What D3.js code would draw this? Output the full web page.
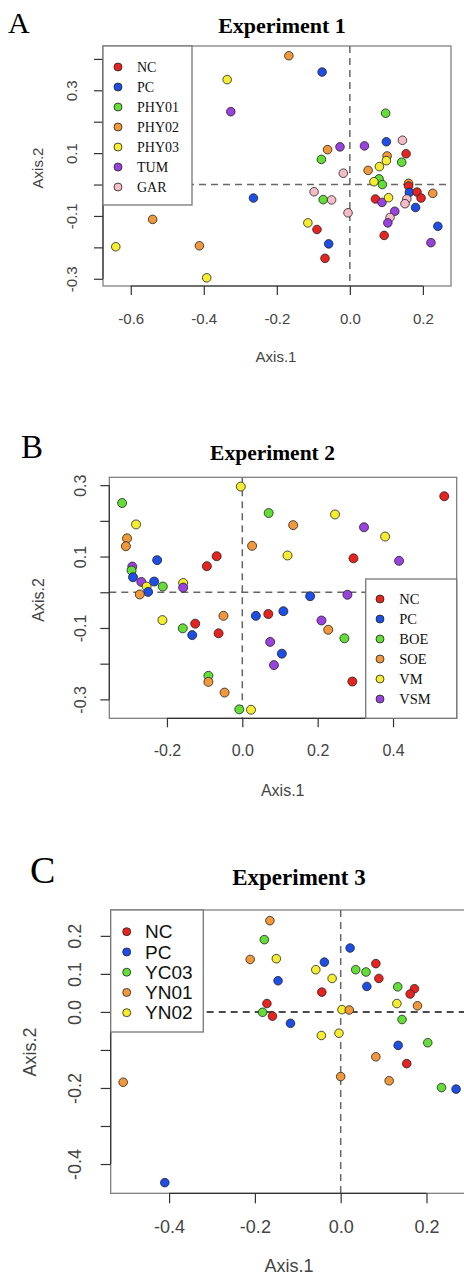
<!DOCTYPE html>
<html>
<head>
<meta charset="utf-8">
<script src="https://cdn.jsdelivr.net/npm/d3@7"></script>
<style>
  body { margin: 0; background: #fff; }
  svg { display: block; }
</style>
</head>
<body>
<svg id="chart" width="464" height="1276"></svg>
<script>
// colours used by all three panels
const RED = "#e6231f", BLUE = "#1d4fe6", GREEN = "#62de36", ORANGE = "#f1983a",
      YELLOW = "#f6ec30", PURPLE = "#9a42de", PINK = "#f5bcc8";

// ---- Experiment 1 ----
const groupsA = ["NC", "PC", "PHY01", "PHY02", "PHY03", "TUM", "GAR"];
const colorsA = [RED, BLUE, GREEN, ORANGE, YELLOW, PURPLE, PINK];
const pointsA = [
  ["PHY02", -0.167, 0.410], ["PC", -0.076, 0.358], ["PHY03", -0.336, 0.334], ["TUM", -0.326, 0.232],
  ["PHY01", 0.098, 0.227], ["PC", 0.100, 0.136], ["GAR", 0.144, 0.141], ["PHY02", -0.061, 0.111],
  ["TUM", -0.027, 0.120], ["TUM", 0.040, 0.123], ["NC", 0.154, 0.098], ["PHY02", 0.102, 0.091],
  ["PHY03", 0.100, 0.076], ["PHY01", -0.078, 0.080], ["PHY01", 0.142, 0.071], ["PHY03", 0.081, 0.057],
  ["GAR", -0.018, 0.036], ["PHY02", 0.050, 0.045], ["PHY01", 0.080, 0.018], ["PHY03", 0.066, 0.009],
  ["PHY01", 0.089, 0.000], ["PHY02", 0.161, 0.004], ["NC", 0.161, -0.005], ["GAR", -0.098, -0.023],
  ["PC", -0.264, -0.043], ["PHY01", -0.073, -0.048], ["GAR", -0.050, -0.049], ["NC", 0.070, -0.046],
  ["TUM", 0.088, -0.057], ["PHY03", 0.106, -0.042], ["PC", 0.163, -0.025], ["NC", 0.184, -0.024],
  ["NC", 0.195, -0.043], ["PHY02", 0.227, -0.028], ["GAR", 0.156, -0.046], ["GAR", 0.151, -0.061],
  ["PC", 0.180, -0.073], ["TUM", 0.123, -0.085], ["GAR", -0.005, -0.090], ["GAR", 0.110, -0.105],
  ["PHY02", -0.540, -0.111], ["TUM", 0.104, -0.122], ["PC", 0.241, -0.133], ["PHY03", -0.115, -0.122],
  ["NC", -0.090, -0.143], ["NC", 0.094, -0.162], ["PHY03", -0.641, -0.198], ["PHY02", -0.412, -0.195],
  ["PC", -0.058, -0.189], ["TUM", 0.222, -0.185], ["NC", -0.068, -0.235], ["PHY03", -0.392, -0.297]
];
const xTicksA = [-0.6, -0.4, -0.2, 0, 0.2];
const yTicksA = [-0.3, -0.2, -0.1, 0, 0.1, 0.2, 0.3, 0.4];
const yLabelsA = [-0.3, -0.1, 0.1, 0.3];

// ---- Experiment 2 ----
const groupsB = ["NC", "PC", "BOE", "SOE", "VM", "VSM"];
const colorsB = [RED, BLUE, GREEN, ORANGE, YELLOW, PURPLE];
const pointsB = [
  ["VM", -0.004, 0.296], ["NC", 0.536, 0.269], ["BOE", -0.319, 0.250], ["BOE", 0.070, 0.222],
  ["VM", 0.246, 0.218], ["VM", -0.282, 0.190], ["SOE", 0.135, 0.188], ["VSM", 0.323, 0.182],
  ["VM", 0.379, 0.156], ["SOE", -0.306, 0.151], ["SOE", -0.309, 0.129], ["SOE", 0.026, 0.130],
  ["VM", 0.120, 0.103], ["NC", -0.068, 0.101], ["NC", 0.295, 0.095], ["NC", -0.094, 0.073],
  ["VSM", 0.416, 0.088], ["PC", -0.226, 0.090], ["VSM", -0.292, 0.072], ["BOE", -0.294, 0.061],
  ["PC", -0.290, 0.042], ["VSM", -0.268, 0.029], ["PC", -0.234, 0.030], ["VM", -0.254, 0.016],
  ["PC", -0.250, 0.001], ["SOE", -0.272, -0.006], ["BOE", -0.211, 0.016], ["VM", -0.157, 0.026],
  ["VSM", -0.157, 0.013], ["PC", 0.180, -0.011], ["VSM", 0.279, -0.007], ["VM", -0.212, -0.078],
  ["SOE", -0.050, -0.066], ["PC", 0.036, -0.066], ["NC", 0.069, -0.061], ["PC", 0.109, -0.053],
  ["VSM", 0.210, -0.079], ["SOE", 0.228, -0.105], ["BOE", 0.271, -0.129], ["BOE", -0.158, -0.101],
  ["NC", -0.125, -0.088], ["PC", -0.133, -0.120], ["NC", -0.063, -0.115], ["VSM", 0.074, -0.139],
  ["PC", 0.105, -0.172], ["VSM", 0.084, -0.204], ["BOE", -0.090, -0.234], ["SOE", -0.090, -0.251],
  ["SOE", -0.047, -0.281], ["NC", 0.292, -0.250], ["BOE", -0.008, -0.328], ["VM", 0.023, -0.329]
];
const xTicksB = [-0.2, 0, 0.2, 0.4];
const yTicksB = [-0.3, -0.2, -0.1, 0, 0.1, 0.2, 0.3];
const yLabelsB = [-0.3, -0.1, 0.1, 0.3];

// ---- Experiment 3 ----
const groupsC = ["NC", "PC", "YC03", "YN01", "YN02"];
const colorsC = [RED, BLUE, GREEN, ORANGE, YELLOW];
const pointsC = [
  ["YN01", -0.165, 0.240], ["YC03", -0.178, 0.190], ["YN01", -0.211, 0.138], ["YN02", -0.150, 0.140],
  ["PC", -0.146, 0.082], ["PC", 0.022, 0.168], ["NC", 0.082, 0.127], ["PC", -0.038, 0.131],
  ["YN02", -0.058, 0.111], ["YC03", 0.035, 0.111], ["YC03", 0.059, 0.105], ["NC", 0.089, 0.088],
  ["YN02", -0.020, 0.088], ["PC", 0.061, 0.067], ["YC03", 0.133, 0.066], ["NC", 0.172, 0.061],
  ["NC", 0.162, 0.047], ["NC", -0.044, 0.052], ["YN02", 0.131, 0.022], ["YN01", 0.179, 0.016],
  ["NC", -0.172, 0.022], ["YC03", -0.182, -0.001], ["NC", -0.159, -0.011], ["PC", -0.117, -0.030],
  ["YN02", 0.003, 0.006], ["YN01", 0.020, 0.005], ["YC03", 0.143, -0.020], ["YN02", -0.045, -0.062],
  ["YN02", -0.004, -0.056], ["PC", 0.134, -0.088], ["YC03", 0.203, -0.081], ["YN01", 0.082, -0.118],
  ["NC", 0.154, -0.136], ["YN01", 0.000, -0.170], ["YN01", 0.113, -0.181], ["YC03", 0.235, -0.199],
  ["PC", 0.269, -0.203], ["YN01", -0.507, -0.185], ["PC", -0.410, -0.449]
];
const xTicksC = [-0.4, -0.2, 0, 0.2];
const yTicksC = [-0.4, -0.3, -0.2, -0.1, 0, 0.1, 0.2];
const yLabelsC = [-0.4, -0.2, 0, 0.1, 0.2];

const svg = d3.select("#chart");
const SANS = "'Liberation Sans', Arial, sans-serif";
const SERIF = "'Liberation Serif', 'Times New Roman', serif";
const fmt = (d) => d.toFixed(1);

function panel(o) {
  const g = svg.append("g");
  const x = d3.scaleLinear().domain(o.xDomain).range([o.left, o.right]);
  const y = d3.scaleLinear().domain(o.yDomain).range([o.bottom, o.top]);
  const color = d3.scaleOrdinal().domain(o.groups).range(o.colors);

  // panel letter + title
  g.append("text").attr("x", o.letterX).attr("y", o.letterY)
    .style("font-family", SERIF).style("font-size", o.letterSize + "px").text(o.letter);
  g.append("text").attr("x", o.titleX).attr("y", o.titleY).attr("text-anchor", "middle")
    .style("font-family", SERIF).style("font-weight", "bold").style("font-size", o.titleSize + "px")
    .text(o.title);

  // reference lines through the origin
  g.append("line").attr("x1", x(0)).attr("x2", x(0)).attr("y1", o.top).attr("y2", o.bottom)
    .attr("stroke", "#666").attr("stroke-width", 1.5).attr("stroke-dasharray", "7,5");
  g.append("line").attr("x1", o.left).attr("x2", o.right).attr("y1", y(0)).attr("y2", y(0))
    .attr("stroke", o.hColor).attr("stroke-width", 1.5).attr("stroke-dasharray", "7,5");

  // points
  g.append("g").selectAll("circle").data(o.points).join("circle")
    .attr("cx", (d) => x(d[1]))
    .attr("cy", (d) => y(d[2]))
    .attr("r", o.r)
    .attr("fill", (d) => color(d[0]))
    .attr("stroke", "#222")
    .attr("stroke-width", 0.8);

  // plot box
  g.append("rect").attr("x", o.left).attr("y", o.top)
    .attr("width", o.right - o.left).attr("height", o.bottom - o.top)
    .attr("fill", "none").attr("stroke", "#777").attr("stroke-width", 1.2);

  // bottom axis (R style: line only between first and last tick)
  const xa = g.append("g").attr("transform", `translate(0,${o.bottom})`)
    .call(d3.axisBottom(x).tickValues(o.xTicks).tickSize(o.tick).tickSizeOuter(0)
      .tickPadding(o.xPad).tickFormat(fmt));
  xa.select(".domain").remove();
  xa.append("line").attr("x1", x(o.xTicks[0])).attr("x2", x(o.xTicks[o.xTicks.length - 1]))
    .attr("stroke", "#333").attr("stroke-width", 1.2);
  xa.selectAll(".tick line").attr("stroke", "#333").attr("stroke-width", 1.2);
  xa.selectAll("text").attr("fill", "#444").style("font-family", SANS).style("font-size", o.font + "px");

  // left axis, labels rotated like R
  const ya = g.append("g").attr("transform", `translate(${o.left},0)`)
    .call(d3.axisLeft(y).tickValues(o.yTicks).tickSize(o.tick).tickSizeOuter(0)
      .tickFormat((d) => (o.yLabels.some((v) => Math.abs(v - d) < 1e-9) ? fmt(d) : "")));
  ya.select(".domain").remove();
  ya.append("line").attr("y1", y(o.yTicks[0])).attr("y2", y(o.yTicks[o.yTicks.length - 1]))
    .attr("stroke", "#333").attr("stroke-width", 1.2);
  ya.selectAll(".tick line").attr("stroke", "#333").attr("stroke-width", 1.2);
  ya.selectAll("text")
    .attr("transform", "rotate(-90)")
    .attr("x", 0).attr("y", -o.yPad).attr("dy", "0.35em")
    .attr("text-anchor", "middle")
    .attr("fill", "#444").style("font-family", SANS).style("font-size", o.font + "px");

  // axis titles
  g.append("text").attr("x", o.xLabX).attr("y", o.xLabY).attr("dy", "0.35em").attr("text-anchor", "middle")
    .attr("fill", "#444").style("font-family", SANS).style("font-size", o.font + "px").text("Axis.1");
  g.append("text").attr("transform", `translate(${o.yLabX},${o.yLabY}) rotate(-90)`)
    .attr("dy", "0.35em").attr("text-anchor", "middle")
    .attr("fill", "#444").style("font-family", SANS).style("font-size", o.font + "px").text("Axis.2");

  // legend
  const L = o.legend;
  const lg = g.append("g");
  lg.append("rect").attr("x", L.x0).attr("y", L.y0).attr("width", L.x1 - L.x0).attr("height", L.y1 - L.y0)
    .attr("fill", "#fff").attr("stroke", "#777").attr("stroke-width", 1.3);
  const items = lg.selectAll("g.item").data(o.groups).join("g").attr("class", "item")
    .attr("transform", (d, i) => `translate(0,${L.first + i * L.step})`);
  items.append("circle").attr("cx", L.cx).attr("r", 4).attr("fill", (d) => color(d))
    .attr("stroke", "#222").attr("stroke-width", 0.8);
  items.append("text").attr("x", L.tx).attr("dy", "0.35em").attr("fill", "#111")
    .style("font-family", L.family).style("font-size", L.size + "px").text((d) => d);
}

panel({
  letter: "A", letterX: 8, letterY: 33, letterSize: 30,
  title: "Experiment 1", titleX: 282, titleY: 33, titleSize: 22,
  left: 103, right: 451, top: 46, bottom: 286,
  xDomain: [-0.676, 0.277], yDomain: [-0.323, 0.441],
  xTicks: xTicksA, yTicks: yTicksA, yLabels: yLabelsA,
  groups: groupsA, colors: colorsA, points: pointsA, r: 4.3,
  tick: 9, xPad: 18, yPad: 31, font: 15, hColor: "#666",
  xLabX: 276, xLabY: 357, yLabX: 38, yLabY: 168,
  legend: { x0: 103, y0: 46, x1: 192, y1: 205, first: 67, step: 20, cx: 118, tx: 137, size: 14, family: SERIF }
});

panel({
  letter: "B", letterX: 21, letterY: 458, letterSize: 33,
  title: "Experiment 2", titleX: 272.5, titleY: 460, titleSize: 21.5,
  left: 109.3, right: 456.7, top: 477.3, bottom: 718.3,
  xDomain: [-0.353, 0.569], yDomain: [-0.353, 0.322],
  xTicks: xTicksB, yTicks: yTicksB, yLabels: yLabelsB,
  groups: groupsB, colors: colorsB, points: pointsB, r: 4.5,
  tick: 9, xPad: 17, yPad: 29, font: 16, hColor: "#666",
  xLabX: 282.7, xLabY: 790, yLabX: 38, yLabY: 600,
  legend: { x0: 365.7, y0: 579, x1: 456.7, y1: 718.3, first: 599, step: 20, cx: 380, tx: 399.3, size: 14.5, family: SERIF }
});

panel({
  letter: "C", letterX: 30, letterY: 883, letterSize: 38,
  title: "Experiment 3", titleX: 299, titleY: 885, titleSize: 23,
  left: 110.7, right: 472, top: 910, bottom: 1193.3,
  xDomain: [-0.5361, 0.3061], yDomain: [-0.477, 0.268],
  xTicks: xTicksC, yTicks: yTicksC, yLabels: yLabelsC,
  groups: groupsC, colors: colorsC, points: pointsC, r: 4.3,
  tick: 10, xPad: 17, yPad: 36, font: 18, hColor: "#111",
  xLabX: 289, xLabY: 1266, yLabX: 30, yLabY: 1052,
  legend: { x0: 110.7, y0: 910, x1: 203.3, y1: 1032, first: 931.7, step: 20.25, cx: 126.7, tx: 145, size: 19, family: SANS }
});
</script>
</body>
</html>
